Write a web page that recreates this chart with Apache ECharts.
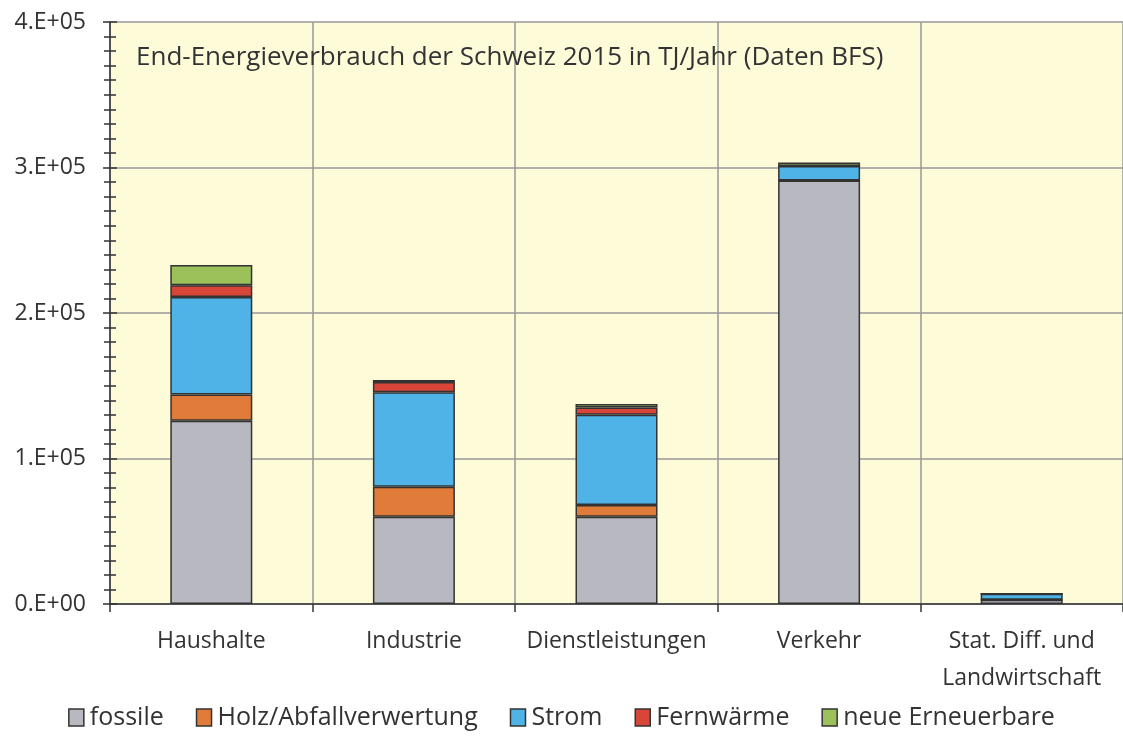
<!DOCTYPE html>
<html><head><meta charset="utf-8">
<script src="https://cdn.jsdelivr.net/npm/echarts@6/dist/echarts.min.js"></script>
<style>html,body{margin:0;padding:0;background:#fff}#c{width:1123px;height:742px}</style>
</head><body><div id="c"></div>
<script>
const categories = ['Haushalte', 'Industrie', 'Dienstleistungen', 'Verkehr', 'Stat. Diff. und\nLandwirtschaft'];
const fossile = [126000, 60000, 60000, 291000, 3000];
const holz = [18000, 20500, 8000, 0, 0];
const strom = [67000, 65000, 62000, 10000, 4000];
const fernwaerme = [8000, 7000, 5000, 0, 0];
const neueErneuerbare = [14000, 1500, 2500, 2500, 0];
const seriesNames = ['fossile', 'Holz/Abfallverwertung', 'Strom', 'Fernwärme', 'neue Erneuerbare'];
const colors = ['#B8B8C0', '#E07B39', '#4FB3E8', '#D8463A', '#9CC15B'];
const title = 'End-Energieverbrauch der Schweiz 2015 in TJ/Jahr (Daten BFS)';

const FONT = 'Open Sans';
const dataSets = [fossile, holz, strom, fernwaerme, neueErneuerbare];
const chart = echarts.init(document.getElementById('c'));
chart.setOption({
  backgroundColor: '#fff',
  animation: false,
  textStyle: { fontFamily: FONT },
  color: colors,
  title: { text: title, left: 131, top: 40, textStyle: { fontFamily: FONT, fontSize: 26, fontWeight: 'normal', color: '#333' } },
  legend: {
    bottom: 7, left: 'center', icon: 'rect', itemWidth: 15, itemHeight: 17, itemGap: 32,
    textStyle: { fontFamily: FONT, fontSize: 25, color: '#333', padding: [0, 0, 0, 1] },
    itemStyle: { borderColor: '#333', borderWidth: 1.5 },
    data: seriesNames
  },
  grid: { left: 110, top: 22, width: 1020, bottom: 138, show: true, backgroundColor: '#FEFBD9', borderWidth: 0 },
  xAxis: {
    type: 'category', data: categories,
    axisLine: { lineStyle: { color: '#333', width: 1.5 } },
    axisTick: { show: true, length: 8, lineStyle: { color: '#333', width: 1.5 } },
    splitLine: { show: true, lineStyle: { color: '#999', width: 1.5 } },
    axisLabel: { interval: 0, fontFamily: FONT, fontSize: 23, color: '#333', margin: 19, lineHeight: 37 }
  },
  yAxis: [{
    type: 'value', min: 0, max: 400000, interval: 100000,
    axisLine: { show: true, lineStyle: { color: '#333', width: 1.5 } },
    axisTick: { show: true, length: 7, lineStyle: { color: '#333', width: 1.5 } },
    minorTick: { show: true, splitNumber: 10, length: 6, lineStyle: { color: '#333', width: 1.5 } },
    splitLine: { show: true, lineStyle: { color: '#999', width: 1.5 } },
    axisLabel: { fontFamily: FONT, fontSize: 23, color: '#333', margin: 24,
      formatter: v => v === 0 ? '0.E+00' : (v / 100000) + '.E+05' }
  }, {
    type: 'value', min: 0, max: 400000, interval: 100000, position: 'left', offset: 0,
    axisLine: { show: false },
    axisTick: { show: true, inside: true, length: 7, lineStyle: { color: '#333', width: 1.5 } },
    minorTick: { show: true, splitNumber: 10, length: 6, lineStyle: { color: '#333', width: 1.5 } },
    splitLine: { show: false }, axisLabel: { show: false }
  }],
  series: seriesNames.map((n, i) => ({
    name: n, type: 'bar', stack: 'total', barWidth: 82, data: dataSets[i],
    itemStyle: { color: colors[i], borderColor: '#333', borderWidth: 1.5 }
  }))
});
</script></body></html>
